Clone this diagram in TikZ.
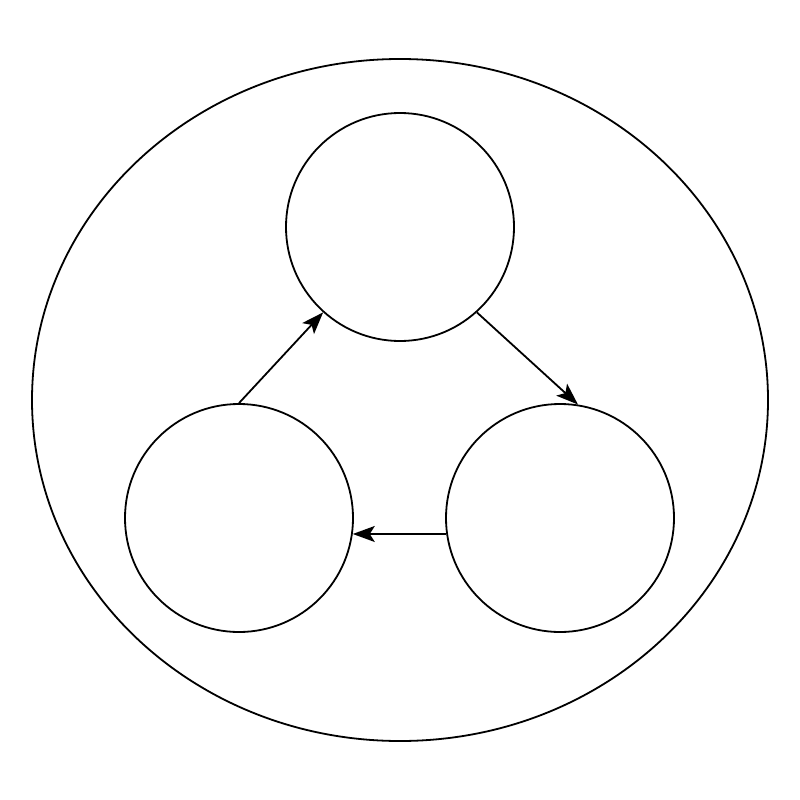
\documentclass[tikz,border=0pt]{standalone}
\usetikzlibrary{arrows.meta}
\begin{document}
\begin{tikzpicture}[x=1pt,y=-1pt,
  ring/.style={draw=black,line width=1.8pt,circle,minimum size=228pt,inner sep=0pt},
  link/.style={line width=1.8pt,-{Stealth[length=22pt,width=16pt,inset=5pt]}}]
\useasboundingbox (0,0) rectangle (800,800);
\fill[white] (0,0) rectangle (800,800);
\draw[line width=1.8pt] (400,400) ellipse [x radius=368, y radius=341];
\node[ring] (top) at (400,227) {};
\node[ring] (left) at (239,518) {};
\node[ring] (right) at (560,518) {};
\draw[link] (left.90) -- (top.228);
\draw[link] (top.312) -- (right.81);
\draw[link] (right.188) -- (left.352);
\end{tikzpicture}
\end{document}
